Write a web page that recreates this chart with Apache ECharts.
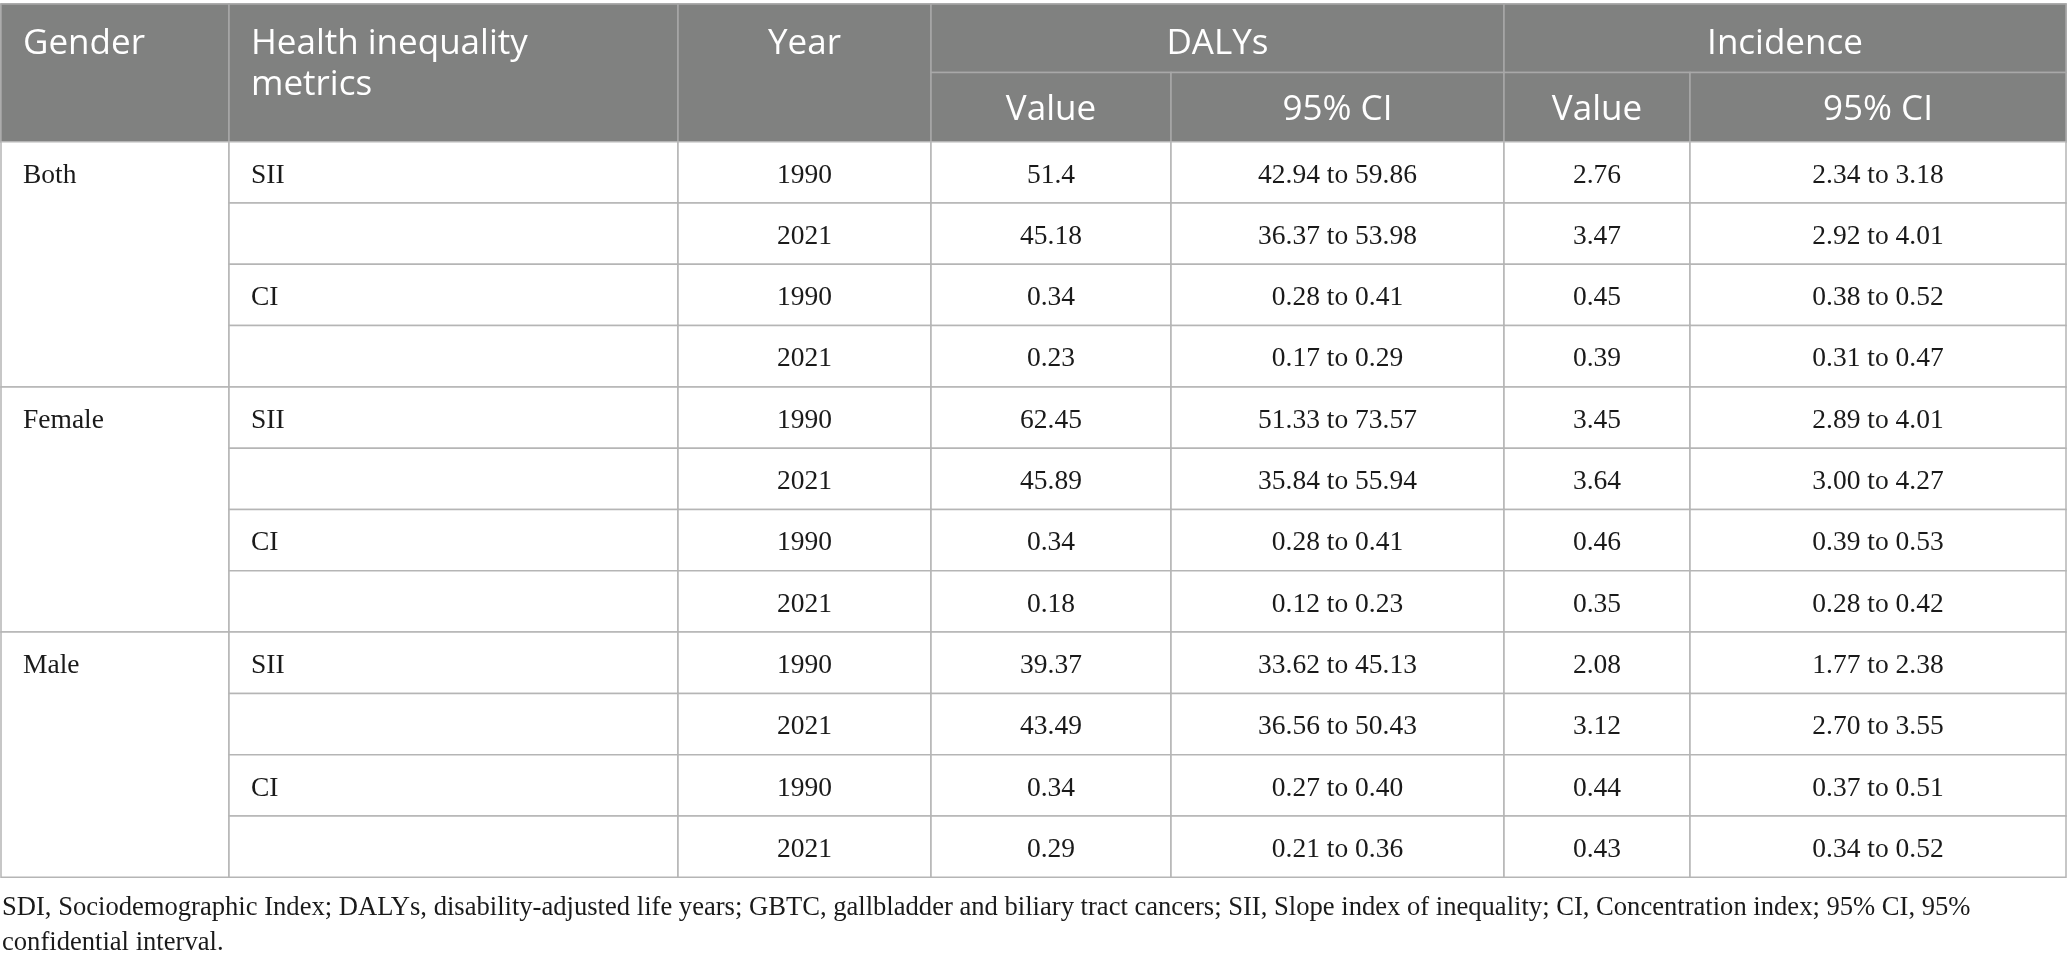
<!DOCTYPE html>
<html>
<head>
<meta charset="utf-8">
<script src="https://cdn.jsdelivr.net/npm/echarts@6/dist/echarts.min.js"></script>
<style>
  html, body { margin: 0; padding: 0; background: #ffffff; }
  #table1 { width: 2067px; height: 967px; }
</style>
</head>
<body>
<div id="table1"></div>
<script>
// table content
const headTop = ['Gender', 'Health inequality\nmetrics', 'Year', 'DALYs', 'Incidence'];
const headSub = ['Value', '95% CI', 'Value', '95% CI'];
const genders = ['Both', 'Female', 'Male'];
const metrics = ['SII', 'CI'];
const years = ['1990', '2021'];
const dalysValue = ['51.4', '45.18', '0.34', '0.23', '62.45', '45.89', '0.34', '0.18', '39.37', '43.49', '0.34', '0.29'];
const dalysCI = ['42.94 to 59.86', '36.37 to 53.98', '0.28 to 0.41', '0.17 to 0.29',
  '51.33 to 73.57', '35.84 to 55.94', '0.28 to 0.41', '0.12 to 0.23',
  '33.62 to 45.13', '36.56 to 50.43', '0.27 to 0.40', '0.21 to 0.36'];
const incValue = ['2.76', '3.47', '0.45', '0.39', '3.45', '3.64', '0.46', '0.35', '2.08', '3.12', '0.44', '0.43'];
const incCI = ['2.34 to 3.18', '2.92 to 4.01', '0.38 to 0.52', '0.31 to 0.47',
  '2.89 to 4.01', '3.00 to 4.27', '0.39 to 0.53', '0.28 to 0.42',
  '1.77 to 2.38', '2.70 to 3.55', '0.37 to 0.51', '0.34 to 0.52'];
const footnote = 'SDI, Sociodemographic Index; DALYs, disability-adjusted life years; GBTC, gallbladder and biliary tract cancers; SII, Slope index of inequality; CI, Concentration index; 95% CI, 95%\nconfidential interval.';

// layout (pixel units on the hidden axes)
const colX = [1, 229, 678, 931, 1171, 1504, 1690, 2066];
const headY = [4, 72.5, 141.7];
const rowH = 61.3;
const pad = 22;
const headBg = '#808180';
const headLine = '#a8a8a8';
const bodyLine = '#b5b5b5';
const sansFont = '"Open Sans", "Noto Sans", sans-serif';
const serifFont = '"Liberation Serif", "DejaVu Serif", serif';

let rows = [];
for (let i = 0; i < dalysValue.length; i++) {
  rows.push([i,
    i % 4 === 0 ? genders[i / 4] : '',
    i % 2 === 0 ? metrics[(i / 2) % 2] : '',
    years[i % 2],
    dalysValue[i], dalysCI[i], incValue[i], incCI[i]]);
}

function cellText(api, x, y, text, align, font, size, color) {
  let p = api.coord([x, y]);
  return {
    type: 'text',
    style: {
      x: p[0], y: p[1], text: text,
      fill: color, font: size + 'px ' + font,
      align: align, verticalAlign: 'middle'
    }
  };
}

function box(api, x0, y0, x1, y1, fill, stroke) {
  let a = api.coord([x0, y0]);
  let b = api.coord([x1, y1]);
  return {
    type: 'rect',
    shape: { x: a[0], y: a[1], width: b[0] - a[0], height: b[1] - a[1] },
    style: { fill: fill, stroke: stroke, lineWidth: 1.5 }
  };
}

function renderHead(params, api) {
  let kids = [];
  kids.push(box(api, colX[0], headY[0], colX[7], headY[2], headBg, headLine));
  // spanning header cells
  let spans = [[0, 1], [1, 2], [2, 3], [3, 5], [5, 7]];
  spans.forEach(function (s, k) {
    let y1 = k < 3 ? headY[2] : headY[1];
    kids.push(box(api, colX[s[0]], headY[0], colX[s[1]], y1, headBg, headLine));
    let left = k < 2;
    let tx = left ? colX[s[0]] + pad : (colX[s[0]] + colX[s[1]]) / 2;
    if (k === 1) {
      let p = api.coord([tx, 23.5]);
      kids.push({
        type: 'text',
        style: {
          x: p[0], y: p[1], text: headTop[k], fill: '#ffffff',
          font: '35px ' + sansFont, align: 'left', verticalAlign: 'top', lineHeight: 41
        }
      });
    } else {
      kids.push(cellText(api, tx, 44, headTop[k], left ? 'left' : 'center', sansFont, 35, '#ffffff'));
    }
  });
  for (let j = 0; j < 4; j++) {
    kids.push(box(api, colX[3 + j], headY[1], colX[4 + j], headY[2], headBg, headLine));
    kids.push(cellText(api, (colX[3 + j] + colX[4 + j]) / 2, 110, headSub[j], 'center', sansFont, 35, '#ffffff'));
  }
  return { type: 'group', children: kids };
}

function renderRow(params, api) {
  let i = api.value(0);
  let y0 = headY[2] + i * rowH;
  let y1 = y0 + rowH;
  let yc = (y0 + y1) / 2 + 3;
  let kids = [];
  if (i % 4 === 0) {
    kids.push(box(api, colX[0], y0, colX[1], y0 + 4 * rowH, '#ffffff', bodyLine));
  }
  for (let c = 1; c < 7; c++) {
    kids.push(box(api, colX[c], y0, colX[c + 1], y1, '#ffffff', bodyLine));
  }
  let cells = rows[i];
  if (cells[1]) kids.push(cellText(api, colX[0] + pad, yc, cells[1], 'left', serifFont, 27.5, '#1a1a1a'));
  if (cells[2]) kids.push(cellText(api, colX[1] + pad, yc, cells[2], 'left', serifFont, 27.5, '#1a1a1a'));
  for (let c = 3; c < 8; c++) {
    kids.push(cellText(api, (colX[c - 1] + colX[c]) / 2, yc, cells[c], 'center', serifFont, 27.5, '#1a1a1a'));
  }
  return { type: 'group', children: kids };
}

let myChart = echarts.init(document.getElementById('table1'), null, { renderer: 'canvas' });
let option = {
  animation: false,
  grid: { left: 0, right: 0, top: 0, bottom: 0 },
  xAxis: { type: 'value', min: 0, max: 2067, show: false },
  yAxis: { type: 'value', min: 0, max: 967, inverse: true, show: false },
  graphic: [{
    type: 'text',
    left: 2,
    top: 891,
    style: {
      text: footnote,
      fill: '#1a1a1a',
      font: '26.6px ' + serifFont,
      lineHeight: 35
    }
  }],
  series: [{
    type: 'custom',
    name: 'head',
    data: [[0]],
    renderItem: renderHead,
    silent: true
  }, {
    type: 'custom',
    name: 'body',
    data: rows,
    renderItem: renderRow,
    silent: true,
    z: 3
  }]
};
myChart.setOption(option);
window.addEventListener('resize', function () {
  myChart.resize();
});
</script>
</body>
</html>
